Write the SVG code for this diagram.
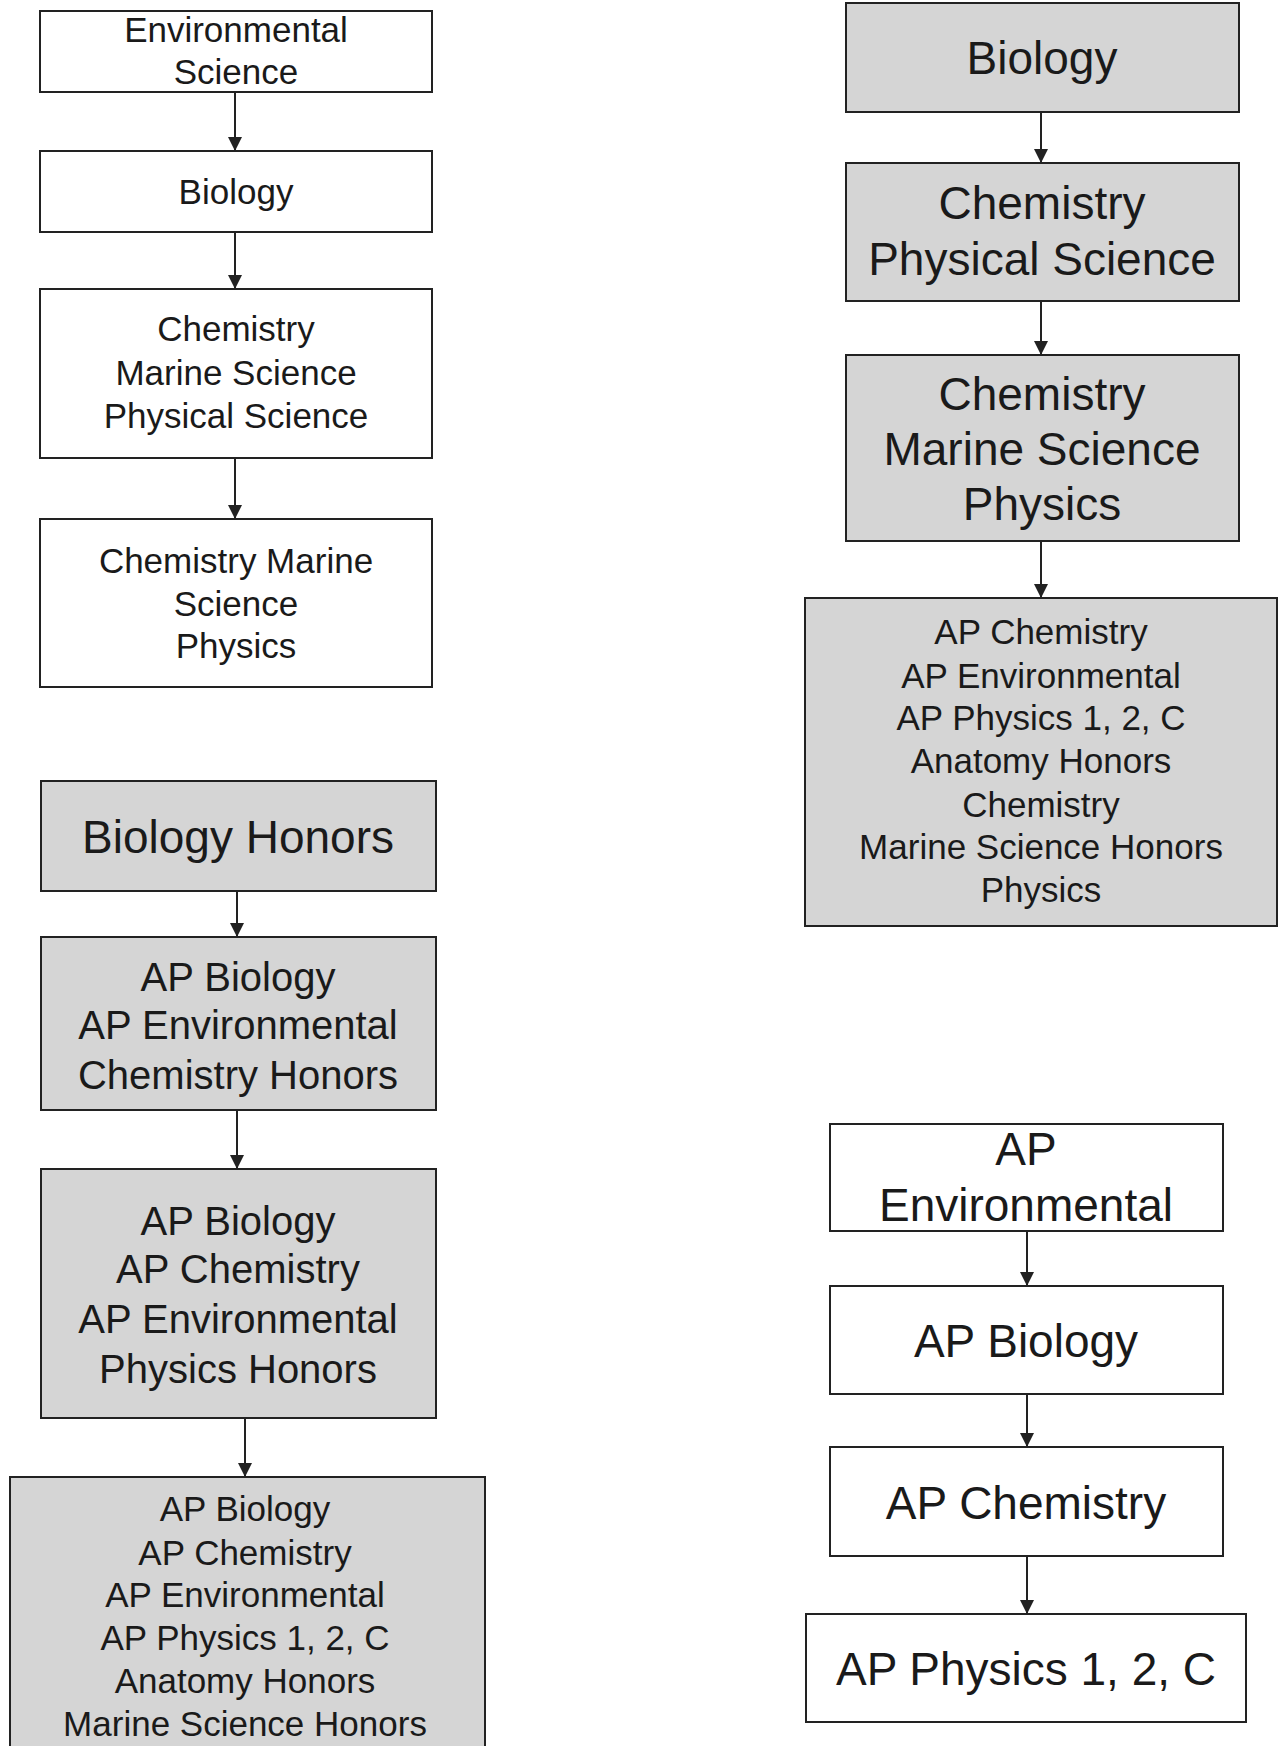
<svg xmlns="http://www.w3.org/2000/svg" width="1278" height="1746" viewBox="0 0 1278 1746">
<style>
.w{fill:#ffffff;stroke:#222;stroke-width:2}
.g{fill:#d5d5d5;stroke:#222;stroke-width:2}
text{font-family:"Liberation Sans",Arial,sans-serif;fill:#1a1a1a;text-anchor:middle}
.s35{font-size:35px}
.s40{font-size:40px}
.s46{font-size:46px}
.c line{stroke:#222;stroke-width:2;marker-end:url(#ah)}
</style>
<defs>
<marker id="ah" markerUnits="userSpaceOnUse" markerWidth="15" markerHeight="14" refX="14" refY="7" orient="auto">
<path d="M0,0 L14,7 L0,14 Z" fill="#222"/>
</marker>
</defs>
<rect width="1278" height="1746" fill="#fff"/>
<g class="c" id="connectors">
<line x1="235" y1="92" x2="235" y2="151"/>
<line x1="235" y1="232" x2="235" y2="289"/>
<line x1="235" y1="458" x2="235" y2="519"/>
<line x1="237" y1="891" x2="237" y2="937"/>
<line x1="237" y1="1110" x2="237" y2="1169"/>
<line x1="245" y1="1418" x2="245" y2="1477"/>
<line x1="1041" y1="112" x2="1041" y2="163"/>
<line x1="1041" y1="301" x2="1041" y2="355"/>
<line x1="1041" y1="541" x2="1041" y2="598"/>
<line x1="1027" y1="1231" x2="1027" y2="1286"/>
<line x1="1027" y1="1394" x2="1027" y2="1447"/>
<line x1="1027" y1="1556" x2="1027" y2="1614"/>
</g>
<g id="n1"><rect class="w" x="40" y="11" width="392" height="81"/>
<text class="s35" x="236" y="42">Environmental</text><text class="s35" x="236" y="84">Science</text></g>
<g id="n2"><rect class="w" x="40" y="151" width="392" height="81"/>
<text class="s35" x="236" y="204">Biology</text></g>
<g id="n3"><rect class="w" x="40" y="289" width="392" height="169"/>
<text class="s35" x="236" y="341">Chemistry</text><text class="s35" x="236" y="385">Marine Science</text><text class="s35" x="236" y="428">Physical Science</text></g>
<g id="n4"><rect class="w" x="40" y="519" width="392" height="168"/>
<text class="s35" x="236" y="573">Chemistry Marine</text><text class="s35" x="236" y="616">Science</text><text class="s35" x="236" y="658">Physics</text></g>
<g id="n5"><rect class="g" x="41" y="781" width="395" height="110"/>
<text class="s46" x="238" y="853">Biology Honors</text></g>
<g id="n6"><rect class="g" x="41" y="937" width="395" height="173"/>
<text class="s40" x="238" y="991">AP Biology</text><text class="s40" x="238" y="1039">AP Environmental</text><text class="s40" x="238" y="1089">Chemistry Honors</text></g>
<g id="n7"><rect class="g" x="41" y="1169" width="395" height="249"/>
<text class="s40" x="238" y="1235">AP Biology</text><text class="s40" x="238" y="1283">AP Chemistry</text><text class="s40" x="238" y="1333">AP Environmental</text><text class="s40" x="238" y="1383">Physics Honors</text></g>
<g id="n8"><rect class="g" x="10" y="1477" width="475" height="290"/>
<text class="s35" x="245" y="1521">AP Biology</text><text class="s35" x="245" y="1565">AP Chemistry</text><text class="s35" x="245" y="1607">AP Environmental</text><text class="s35" x="245" y="1650">AP Physics 1, 2, C</text><text class="s35" x="245" y="1693">Anatomy Honors</text><text class="s35" x="245" y="1736">Marine Science Honors</text></g>
<g id="r1"><rect class="g" x="846" y="3" width="393" height="109"/>
<text class="s46" x="1042" y="74">Biology</text></g>
<g id="r2"><rect class="g" x="846" y="163" width="393" height="138"/>
<text class="s46" x="1042" y="219">Chemistry</text><text class="s46" x="1042" y="275">Physical Science</text></g>
<g id="r3"><rect class="g" x="846" y="355" width="393" height="186"/>
<text class="s46" x="1042" y="410">Chemistry</text><text class="s46" x="1042" y="465">Marine Science</text><text class="s46" x="1042" y="520">Physics</text></g>
<g id="r4"><rect class="g" x="805" y="598" width="472" height="328"/>
<text class="s35" x="1041" y="644">AP Chemistry</text><text class="s35" x="1041" y="688">AP Environmental</text><text class="s35" x="1041" y="730">AP Physics 1, 2, C</text><text class="s35" x="1041" y="773">Anatomy Honors</text><text class="s35" x="1041" y="817">Chemistry</text><text class="s35" x="1041" y="859">Marine Science Honors</text><text class="s35" x="1041" y="902">Physics</text></g>
<g id="r5"><rect class="w" x="830" y="1124" width="393" height="107"/>
<text class="s46" x="1026" y="1165">AP</text><text class="s46" x="1026" y="1221">Environmental</text></g>
<g id="r6"><rect class="w" x="830" y="1286" width="393" height="108"/>
<text class="s46" x="1026" y="1357">AP Biology</text></g>
<g id="r7"><rect class="w" x="830" y="1447" width="393" height="109"/>
<text class="s46" x="1026" y="1519">AP Chemistry</text></g>
<g id="r8"><rect class="w" x="806" y="1614" width="440" height="108"/>
<text class="s46" x="1026" y="1685">AP Physics 1, 2, C</text></g>
</svg>
